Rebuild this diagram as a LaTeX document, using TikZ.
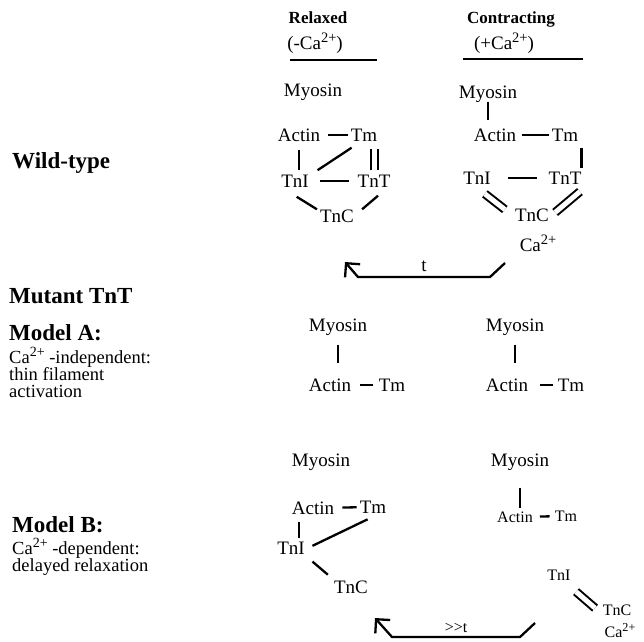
\documentclass[tikz,border=0pt]{standalone}
\usepackage{fontspec}
\setmainfont{Liberation Serif}
\usetikzlibrary{arrows.meta}
\newcommand\puiss[1]{\raisebox{.36em}{\scalebox{.76}{#1}}}

\begin{document}
\begin{tikzpicture}[x=1pt,y=-1pt,
  mol/.style={font=\fontsize{19}{21}\selectfont,inner sep=3pt,text height=13pt,text depth=0pt},
  molp/.style={font=\fontsize{16}{18}\selectfont,inner sep=3pt,text height=11pt,text depth=0pt},
  titre/.style={font=\fontsize{23}{25}\selectfont\bfseries,anchor=west,inner sep=0pt,text height=16pt,text depth=0pt},
  entete/.style={font=\fontsize{17}{19}\selectfont\bfseries,inner sep=0pt,text height=12pt,text depth=0pt},
  note/.style={font=\fontsize{18.5}{20}\selectfont,anchor=west,inner sep=0pt,text height=12pt,text depth=0pt},
  lien/.style={line width=2.3pt},
  lienfin/.style={line width=1.4pt},
  dlien/.style={double,line width=2pt,double distance=5pt},
  retour/.style={line width=2.3pt,-{Straight Barb[length=10pt,width=20pt]}}]

\useasboundingbox (0,0) rectangle (644,641);

% En-tetes des colonnes
\node[entete] (relax) at (318,17) {Relaxed};
\node[mol] (sansca) at (315,43) {(-Ca\puiss{2+})};
\node[entete] (contr) at (511,17) {Contracting};
\node[mol] (avecca) at (504,43) {(+Ca\puiss{2+})};
\draw[line width=1.6pt] (290,60) -- (377,60);
\draw[line width=1.6pt] (463,59) -- (583,59);

% Titres a gauche
\node[titre] (wt) at (12,160) {Wild-type};
\node[titre] (mut) at (9,295) {Mutant TnT};
\node[titre] (moda) at (9,332) {Model A:};
\node[note] (moda1) at (9,357) {Ca\puiss{2+} -independent:};
\node[note] (moda2) at (9,374) {thin filament};
\node[note] (moda3) at (9,391) {activation};
\node[titre] (modb) at (12,524) {Model B:};
\node[note] (modb1) at (12,548) {Ca\puiss{2+} -dependent:};
\node[note] (modb2) at (12,565) {delayed relaxation};

% Type sauvage, relache
\node[mol] (my1) at (313,90) {Myosin};
\node[mol] (act1) at (299,135) {Actin};
\node[mol] (tm1) at (364,135) {Tm};
\node[mol] (tni1) at (295,181) {TnI};
\node[mol] (tnt1) at (374,181) {TnT};
\node[mol] (tnc1) at (337,216) {TnC};

\draw[lien,shorten <=5pt] (act1) -- (tm1);
\draw[lien,shorten <=5pt,shorten >=1pt] (act1.south) -- (act1.south |- tni1.north);
\draw[lien,shorten <=2pt] ([xshift=4pt]tni1.north east) -- ([shift={(4pt,-3pt)}]tm1.south west);
\draw[dlien,shorten <=1pt,shorten >=4pt] (tnt1.north) -- (tnt1.north |- tm1.south);
\draw[lien,shorten <=8pt,shorten >=5pt] (tni1) -- (tnt1);
\draw[lien,shorten <=2pt] ([yshift=-5pt]tni1.south) -- ([yshift=-3pt]tnc1.north west);
\draw[lien] ([shift={(4pt,-5pt)}]tnt1.south) -- ([shift={(5pt,-3pt)}]tnc1.north east);

% Type sauvage, contraction
\node[mol] (my2) at (488,92) {Myosin};
\node[mol] (act2) at (495,135) {Actin};
\node[mol] (tm2) at (565,135) {Tm};
\node[mol] (tni2) at (477,178) {TnI};
\node[mol] (tnt2) at (565,178) {TnT};
\node[mol] (tnc2) at (532,215) {TnC};
\node[mol] (ca2) at (538,245) {Ca\puiss{2+}};

\draw[lien,shorten >=5pt] (my2) -- (my2 |- act2.north);
\draw[lienfin,shorten <=3pt] (act2) -- (tm2);
\draw[lien,shorten <=3pt] (tm2.south east) -- (tm2.south east |- tnt2.north);
\draw[lien,shorten <=14pt,shorten >=8pt] (tni2) -- (tnt2);
\draw[dlien,shorten <=10pt,shorten >=9pt] (tni2.south) -- (tnc2.west);
\draw[dlien,shorten <=6pt,shorten >=4pt] (tnt2.south east) -- (tnc2.east);

% Retour (t)
\coordinate (dep1) at (505,263);
\coordinate (fin1) at (345,262);
\draw[retour] (dep1) -- (490,277) -- node[mol,above=1pt] {t} (358,277) -- (fin1);

% Modele A
\node[mol] (mya1) at (338,325) {Myosin};
\node[mol] (acta1) at (330,385) {Actin};
\node[mol] (tma1) at (392,385) {Tm};
\node[mol] (mya2) at (515,325) {Myosin};
\node[mol] (acta2) at (507,385) {Actin};
\node[mol] (tma2) at (571,385) {Tm};

\draw[lien,shorten <=10pt,shorten >=12pt] (mya1) -- (mya1 |- acta1.north);
\draw[lien,shorten <=6pt,shorten >=3pt] (acta1) -- (tma1);
\draw[lien,shorten <=10pt,shorten >=12pt] (mya2) -- (mya2 |- acta2.north);
\draw[lien,shorten <=9pt,shorten >=2pt] (acta2) -- (tma2);

% Modele B, relache
\node[mol] (myb1) at (321,460) {Myosin};
\node[mol] (actb1) at (313,508) {Actin};
\node[mol] (tmb1) at (373,507) {Tm};
\node[mol] (tnib1) at (291,548) {TnI};
\node[mol] (tncb1) at (351,587) {TnC};
\coordinate (pied) at ([xshift=10pt]actb1.south west);

\draw[lien,shorten <=5pt] (actb1) -- (tmb1);
\draw[lien,shorten <=4pt] (pied) -- (pied |- tnib1.north);
\draw[lien,shorten <=5pt,shorten >=6pt] (tnib1.east) -- (tmb1.south);
\draw[lien,shorten <=6pt,shorten >=4pt] (tnib1.south east) -- (tncb1.north west);

% Modele B, contraction
\node[mol] (myb2) at (520,460) {Myosin};
\node[molp] (actb2) at (515,517) {Actin};
\node[molp] (tmb2) at (566,516) {Tm};
\node[molp] (tnib2) at (559,575) {TnI};
\node[molp] (tncb2) at (617,610) {TnC};
\node[molp] (cab2) at (620,632) {Ca\puiss{2+}};

\draw[lien,shorten <=18pt] (myb2) -- (myb2 |- actb2.north);
\draw[lien,shorten <=4pt,shorten >=2pt] (actb2) -- (tmb2);
\draw[dlien,shorten <=3pt,shorten >=6pt] ([yshift=-6pt]tnib2.south east) -- ([yshift=-2pt]tncb2.west);

% Retour (>>t)
\coordinate (dep2) at (535,623);
\coordinate (fin2) at (375,618);
\draw[retour] (dep2) -- (520,637) -- node[molp,above=0pt] {>{}>t} (392,637) -- (fin2);

\end{tikzpicture}
\end{document}
